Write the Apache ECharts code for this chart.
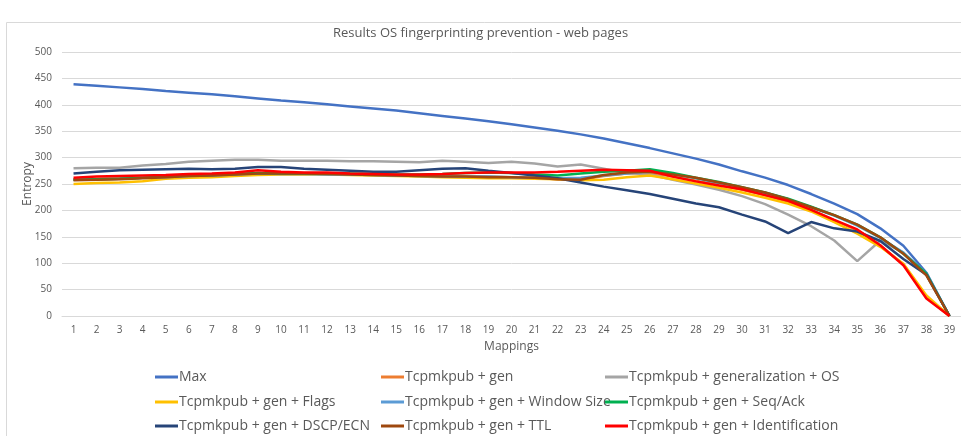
<!DOCTYPE html>
<html><head><meta charset="utf-8">
<script src="https://cdn.jsdelivr.net/npm/echarts@6/dist/echarts.min.js"></script>
<style>html,body{margin:0;padding:0;background:#fff}#c{width:961px;height:436px}</style>
</head><body><div id="c"></div>
<script>
const mappings = Array.from({length:39},(_,i)=>String(i+1));
const yTicks = [0,50,100,150,200,250,300,350,400,450,500];
const seriesNames = ["Max","Tcpmkpub + gen","Tcpmkpub + generalization + OS","Tcpmkpub + gen + Flags","Tcpmkpub + gen + Window Size","Tcpmkpub + gen + Seq/Ack","Tcpmkpub + gen + DSCP/ECN","Tcpmkpub + gen + TTL","Tcpmkpub + gen + Identification"];
const maxVals = [439,436,433,430,426,423,420,416,412,408,405,401,397,393,389,384,379,374,369,363,357,351,344,336,327,318,308,298,287,274,262,248,231,213,193,166,133,82,0];
const genVals = [259,260,261,262,264,266,267,268,270,269,269,269,268,267,266,265,265,264,264,263,262,259,258,265,270,271,264,256,248,239,229,217,201,181,162,133,98,35,0];
const osVals = [280,281,281,285,288,292,294,296,296,294,294,294,293,293,292,291,294,292,290,292,289,283,287,279,271,268,258,249,239,227,212,192,170,143,104,143,120,78,0];
const flagsVals = [250,252,253,255,260,262,263,265,267,268,268,268,267,266,265,264,263,262,261,261,260,259,257,258,263,266,259,251,243,234,224,213,198,178,156,131,99,39,0];
const winVals = [258,259,260,262,263,265,266,268,270,269,269,268,268,267,266,265,264,264,264,263,262,261,262,266,270,274,269,261,252,243,233,221,206,190,171,148,120,80,0];
const seqVals = [258,259,260,262,264,266,267,269,271,270,270,270,270,269,268,268,269,271,272,271,268,266,270,273,275,278,271,262,254,244,234,222,207,191,173,149,118,80,0];
const dscpVals = [270,273,276,277,278,279,278,279,282,282,279,277,275,273,273,276,279,280,275,271,266,261,253,245,238,231,222,213,206,192,179,157,178,166,160,142,108,78,0];
const ttlVals = [257,258,259,261,263,265,266,268,270,270,270,269,268,267,266,265,264,264,263,263,262,259,258,267,272,273,268,262,253,244,234,221,206,191,173,149,118,77,0];
const idVals = [262,264,265,266,267,269,270,272,276,273,272,272,270,269,268,268,269,271,272,272,272,273,275,277,276,275,264,255,247,240,229,218,201,182,164,134,96,33,0];
const colors = ["#4472C4","#ED7D31","#A5A5A5","#FFC000","#5B9BD5","#00B050","#264478","#9E480E","#FF0000"];
const allVals = [maxVals,genVals,osVals,flagsVals,winVals,seqVals,dscpVals,ttlVals,idVals];

const FONT = '"Open Sans", sans-serif';
const chart = echarts.init(document.getElementById('c'), null, {renderer:'canvas'});
const legendColX = [155,381,605];
const legendRowY = [378,403,427];
const legendPos = [[0,0],[1,0],[2,0],[0,1],[1,1],[2,1],[0,2],[1,2],[2,2]];
chart.setOption({
  animation:false,
  color: colors,
  title:{text:'Results OS fingerprinting prevention - web pages', left:'center', top:22,
    textStyle:{fontFamily:FONT,fontSize:13,fontWeight:'normal',color:'#595959'}},
  graphic:[{type:'rect',shape:{x:6.5,y:22.5,width:960,height:420},style:{fill:'none',stroke:'#d9d9d9',lineWidth:1},silent:true}],
  legend: seriesNames.map((n,i)=>({
    orient:'horizontal', left:legendColX[legendPos[i][0]], top:legendRowY[legendPos[i][1]]-8, padding:0,
    itemWidth:23, itemHeight:3, itemGap:0, icon:'rect', selectedMode:false,
    data:[n],
    textStyle:{fontFamily:FONT,fontSize:14,color:'#595959',padding:[0,0,0,-4]}
  })),
  grid:{left:62,right:0,top:52,bottom:120,containLabel:false},
  xAxis:{type:'category',data:mappings,boundaryGap:true,name:'Mappings',nameLocation:'middle',nameGap:25,
    nameMoveOverlap:false,
    nameTextStyle:{fontFamily:FONT,fontSize:12,color:'#595959'},
    axisLine:{lineStyle:{color:'#d9d9d9'}},axisTick:{show:false},
    axisLabel:{fontFamily:FONT,fontSize:10,color:'#595959',margin:9,interval:0}},
  yAxis:{type:'value',min:yTicks[0],max:yTicks[yTicks.length-1],interval:50,name:'Entropy',nameLocation:'middle',nameGap:28,nameRotate:90,
    nameMoveOverlap:false,
    nameTextStyle:{fontFamily:FONT,fontSize:12,color:'#595959'},
    axisLine:{show:false},axisTick:{show:false},
    splitLine:{lineStyle:{color:'#d9d9d9'}},
    axisLabel:{fontFamily:FONT,fontSize:10,color:'#595959',margin:10}},
  series: seriesNames.map((n,i)=>({name:n,type:'line',data:allVals[i],showSymbol:false,symbol:'none',
    lineStyle:{width:2.5,color:colors[i]},itemStyle:{color:colors[i]},z:2+i}))
});
</script></body></html>
